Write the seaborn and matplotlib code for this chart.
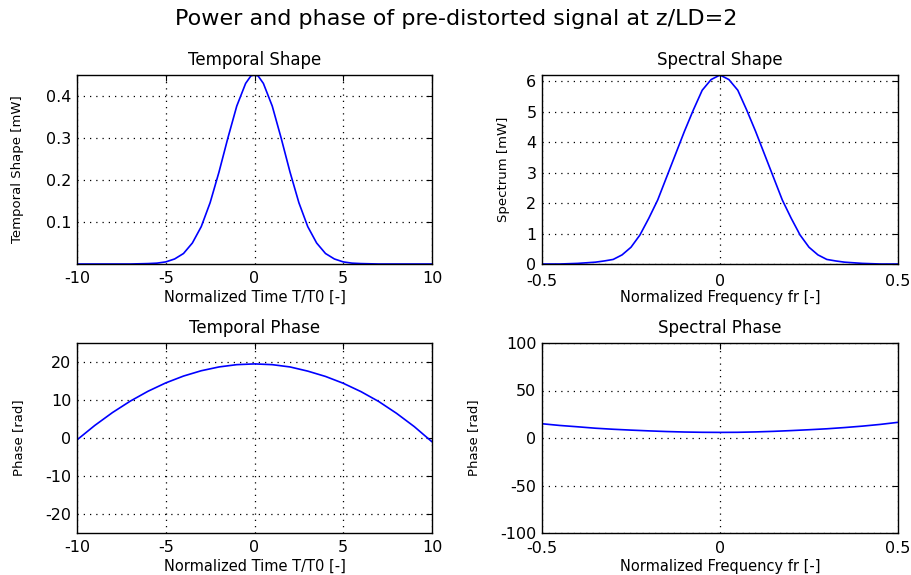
import matplotlib
matplotlib.use("Agg")
import matplotlib.pyplot as plt
import seaborn as sns
import pandas as pd

# Valores
t_forma = [-10, -9, -8, -7, -6, -5.5, -5, -4.5, -4, -3.5, -3, -2.5, -2, -1.5, -1, -0.5, -0.2,
           0, 0.2, 0.5, 1, 1.5, 2, 2.5, 3, 3.5, 4, 4.5, 5, 5.5, 6, 7, 8, 9, 10]
p_tempo = [0, 0, 0, 0, 0.001, 0.002, 0.005, 0.012, 0.025, 0.050, 0.089, 0.146, 0.219, 0.300, 0.376, 0.430, 0.448,
           0.450, 0.448, 0.430, 0.376, 0.300, 0.219, 0.146, 0.089, 0.050, 0.025, 0.012, 0.005, 0.002, 0.001, 0, 0, 0, 0]

f_forma = [-0.5, -0.475, -0.45, -0.425, -0.4, -0.375, -0.35, -0.325, -0.3, -0.275, -0.25, -0.225, -0.2,
           -0.175, -0.15, -0.125, -0.1, -0.075, -0.05, -0.025, 0, 0.025, 0.05, 0.075, 0.1, 0.125, 0.15,
           0.175, 0.2, 0.225, 0.25, 0.275, 0.3, 0.325, 0.35, 0.375, 0.4, 0.425, 0.45, 0.475, 0.5]
p_espectro = [0, 0, 0, 0.01, 0.02, 0.04, 0.06, 0.10, 0.15, 0.30, 0.55, 0.95, 1.50,
              2.10, 2.85, 3.60, 4.35, 5.05, 5.70, 6.05, 6.20, 6.05, 5.70, 5.05, 4.35, 3.60, 2.85,
              2.10, 1.50, 0.95, 0.55, 0.30, 0.15, 0.10, 0.06, 0.04, 0.02, 0.01, 0, 0, 0]

t_fase = [-10, -9, -8, -7, -6, -5, -4, -3, -2, -1, 0, 1, 2, 3, 4, 5, 6, 7, 8, 9, 10]
fase_tempo = [-0.5, 3.3, 6.7, 9.7, 12.3, 14.5, 16.3, 17.7, 18.7, 19.3, 19.5,
              19.3, 18.7, 17.6, 16.2, 14.4, 12.2, 9.6, 6.5, 3.0, -1.0]

f_fase = [-0.5, -0.45, -0.4, -0.35, -0.3, -0.25, -0.2, -0.15, -0.1, -0.05, 0,
          0.05, 0.1, 0.15, 0.2, 0.25, 0.3, 0.35, 0.4, 0.45, 0.5]
fase_espectro = [15, 13.2, 11.8, 10.3, 9.2, 8.3, 7.5, 6.8, 6.3, 6.0, 5.9,
                 6.0, 6.4, 7.0, 7.8, 8.7, 9.7, 11.0, 12.5, 14.3, 16.5]

sns.set_style("white")
plt.rcParams["font.family"] = ["DejaVu Sans"]
plt.rcParams["axes.unicode_minus"] = False
plt.rcParams["text.color"] = "black"
plt.rcParams["axes.labelcolor"] = "black"

fig = plt.figure(figsize=(9.12, 5.75), dpi=100)
W, H = 912, 575

def eixo(esq, topo, dir_, base):
    return fig.add_axes([esq / W, 1 - base / H, (dir_ - esq) / W, (base - topo) / H])

ax1 = eixo(77, 75, 432, 264)
ax2 = eixo(542, 75, 898, 264)
ax3 = eixo(77, 343, 432, 533)
ax4 = eixo(542, 343, 898, 533)

# últimos campos: posição horizontal do rótulo y (fração do eixo) e pad dos ticks x
configs = [
    (ax1, t_forma, p_tempo, "Temporal Shape", "Normalized Time T/T0 [-]", "Temporal Shape [mW]",
     (-10, 10), (0, 0.45), [-10, -5, 0, 5, 10], ["-10", "-5", "0", "5", "10"],
     [0.1, 0.2, 0.3, 0.4], ["0.1", "0.2", "0.3", "0.4"], -0.149, 5),
    (ax2, f_forma, p_espectro, "Spectral Shape", "Normalized Frequency fr [-]", "Spectrum [mW]",
     (-0.5, 0.5), (0, 6.2), [-0.5, 0, 0.5], ["-0.5", "0", "0.5"],
     [0, 1, 2, 3, 4, 5, 6], ["0", "1", "2", "3", "4", "5", "6"], -0.09, 7),
    (ax3, t_fase, fase_tempo, "Temporal Phase", "Normalized Time T/T0 [-]", "Phase [rad]",
     (-10, 10), (-25, 25), [-10, -5, 0, 5, 10], ["-10", "-5", "0", "5", "10"],
     [-20, -10, 0, 10, 20], ["-20", "-10", "0", "10", "20"], -0.146, 5),
    (ax4, f_fase, fase_espectro, "Spectral Phase", "Normalized Frequency fr [-]", "Phase [rad]",
     (-0.5, 0.5), (-100, 100), [-0.5, 0, 0.5], ["-0.5", "0", "0.5"],
     [-100, -50, 0, 50, 100], ["-100", "-50", "0", "50", "100"], -0.174, 6),
]

for ax, x, y, titulo, xl, yl, xlim, ylim, xt, xtl, yt, ytl, ypos, xpad in configs:
    df = pd.DataFrame({"x": x, "y": y})
    sns.lineplot(data=df, x="x", y="y", ax=ax, color="#0000ff", linewidth=1.2, sort=False)
    ax.set_xlim(*xlim)
    ax.set_ylim(*ylim)
    ax.set_xticks(xt)
    ax.set_xticklabels(xtl)
    ax.set_yticks(yt)
    ax.set_yticklabels(ytl)
    ax.grid(True, linestyle=(0, (1, 4)), color="black", linewidth=0.9)
    ax.set_axisbelow(True)
    ax.tick_params(direction="in", length=4, width=0.8, labelsize=11.5, top=True, right=True,
                   colors="black")
    ax.tick_params(axis="x", pad=xpad)
    ax.tick_params(axis="y", pad=4)
    for s in ax.spines.values():
        s.set_visible(True)
        s.set_color("black")
        s.set_linewidth(1.0)
    ax.set_title(titulo, fontsize=12, pad=7)
    ax.set_xlabel(xl, fontsize=10.5, labelpad=8 - xpad)
    ax.set_ylabel(yl, fontsize=9.5)
    ax.yaxis.set_label_coords(ypos, 0.5)

fig.suptitle("Power and phase of pre-distorted signal at z/LD=2", fontsize=16, y=0.985, va="top")

fig.savefig("out.png", dpi=100)
